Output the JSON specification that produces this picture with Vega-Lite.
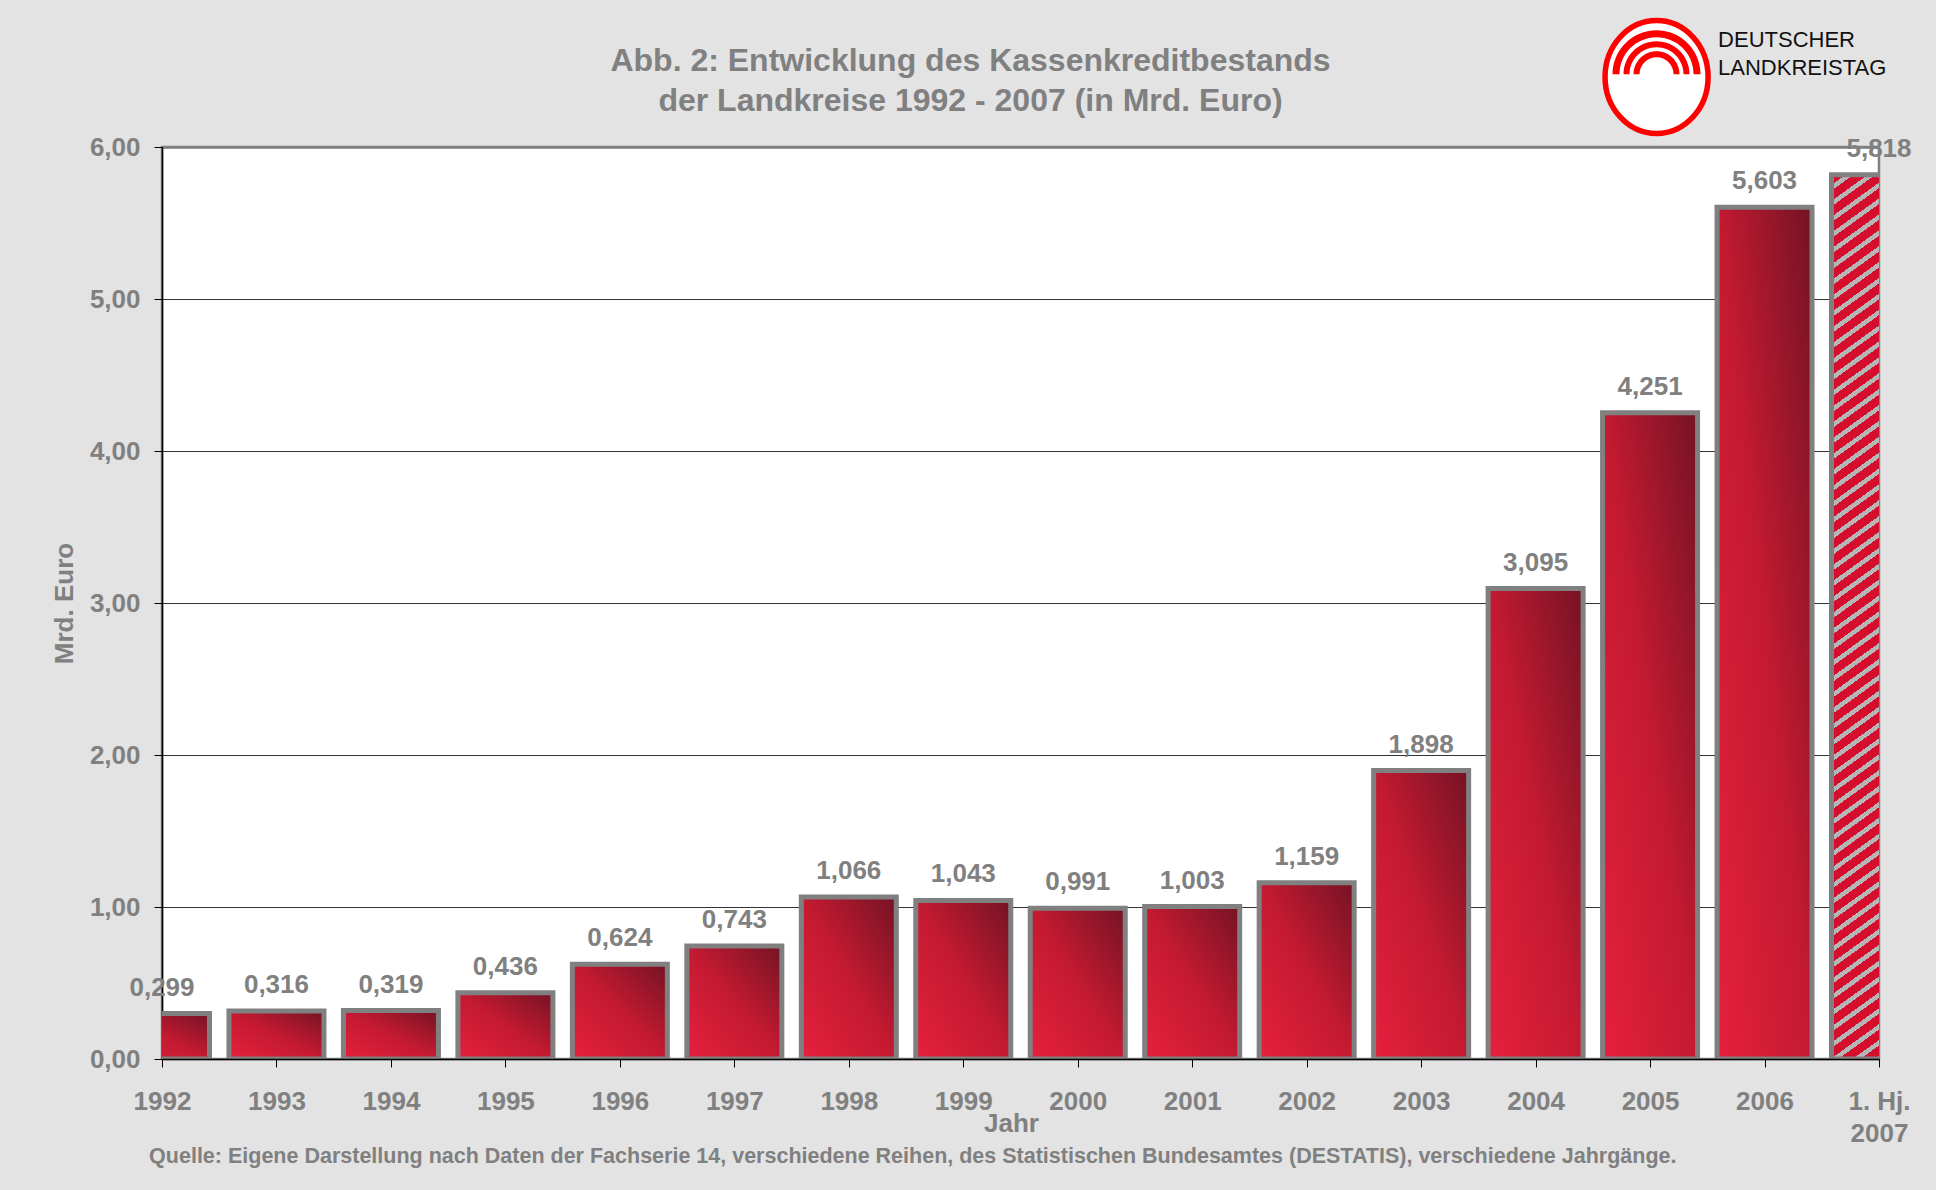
{
  "$schema": "https://vega.github.io/schema/vega-lite/v6.json",
  "width": 1717,
  "height": 912,
  "autosize": {"type": "none"},
  "padding": {"left": 162, "top": 147, "right": 57, "bottom": 131},
  "background": "#e3e3e3",
  "config": {
    "locale": {"number": {"decimal": ",", "thousands": ".", "grouping": [3], "currency": ["", " €"]}},
    "view": {"fill": "#ffffff", "stroke": "#808080", "strokeWidth": 2.5},
    "font": "Liberation Sans",
    "axis": {
      "labelFont": "Liberation Sans", "labelFontWeight": "bold", "labelFontSize": 26, "labelColor": "#808080",
      "titleFont": "Liberation Sans", "titleFontWeight": "bold", "titleFontSize": 26, "titleColor": "#808080",
      "domainColor": "#000000", "tickColor": "#000000", "tickSize": 8, "domainWidth": 1.5
    }
  },
  "data": {"values": [
    {"year": "1992", "value": 0.299},
    {"year": "1993", "value": 0.316},
    {"year": "1994", "value": 0.319},
    {"year": "1995", "value": 0.436},
    {"year": "1996", "value": 0.624},
    {"year": "1997", "value": 0.743},
    {"year": "1998", "value": 1.066},
    {"year": "1999", "value": 1.043},
    {"year": "2000", "value": 0.991},
    {"year": "2001", "value": 1.003},
    {"year": "2002", "value": 1.159},
    {"year": "2003", "value": 1.898},
    {"year": "2004", "value": 3.095},
    {"year": "2005", "value": 4.251},
    {"year": "2006", "value": 5.603},
    {"year": "1. Hj. 2007", "value": 5.818}
  ]},
  "resolve": {"axis": {"x": "independent", "y": "independent"}},
  "layer": [
    {
      "transform": [{"filter": "datum.year != '1. Hj. 2007'"}],
      "mark": {
        "type": "bar", "width": 95, "clip": true, "stroke": "#808080", "strokeWidth": 5,
        "fill": {"gradient": "linear", "x1": 0, "y1": 1, "x2": 1, "y2": 0, "stops": [
          {"offset": 0, "color": "#e6203e"},
          {"offset": 0.5, "color": "#c41a31"},
          {"offset": 1, "color": "#741324"}
        ]}
      },
      "encoding": {
        "x": {
          "field": "year", "type": "ordinal",
          "scale": {"type": "point", "padding": 0, "domain": ["1992", "1993", "1994", "1995", "1996", "1997", "1998", "1999", "2000", "2001", "2002", "2003", "2004", "2005", "2006", "1. Hj. 2007"]},
          "axis": {
            "orient": "bottom", "title": "Jahr", "labelAngle": 0, "labelPadding": 21, "labelLineHeight": 32,
            "labelExpr": "datum.value == '1. Hj. 2007' ? ['1. Hj.', '2007'] : datum.label",
            "labelOverlap": false, "labelBound": false, "labelFlush": false,
            "titleX": 849, "titleY": 72, "titleBaseline": "alphabetic", "titleAlign": "center",
            "zindex": 1
          }
        },
        "y": {
          "field": "value", "type": "quantitative",
          "scale": {"domain": [0, 6], "nice": false, "zero": true},
          "axis": {
            "orient": "left", "title": "Mrd. Euro", "values": [0, 1, 2, 3, 4, 5, 6], "format": ".2f",
            "labelPadding": 14, "titlePadding": 12, "grid": true,
            "gridColor": {"condition": {"test": "datum.value == 6", "value": "#808080"}, "value": "#333333"},
            "gridWidth": {"condition": {"test": "datum.value == 6", "value": 2.5}, "value": 1},
            "zindex": 0
          }
        }
      }
    },
    {
      "transform": [{"filter": "datum.year == '1. Hj. 2007'"}],
      "mark": {
        "type": "bar", "width": 95, "clip": true, "stroke": "#808080", "strokeWidth": 5,
        "fill": {"gradient": "linear", "x1": 0, "y1": 0, "x2": 0.0828, "y2": 1.0709, "stops": [
          {"offset": 0, "color": "#d40e2c"}, {"offset": 0.0108, "color": "#d40e2c"}, {"offset": 0.0108, "color": "#b6b6b6"}, {"offset": 0.0167, "color": "#b6b6b6"},
          {"offset": 0.0167, "color": "#d40e2c"}, {"offset": 0.0275, "color": "#d40e2c"}, {"offset": 0.0275, "color": "#b6b6b6"}, {"offset": 0.0333, "color": "#b6b6b6"},
          {"offset": 0.0333, "color": "#d40e2c"}, {"offset": 0.0442, "color": "#d40e2c"}, {"offset": 0.0442, "color": "#b6b6b6"}, {"offset": 0.05, "color": "#b6b6b6"},
          {"offset": 0.05, "color": "#d40e2c"}, {"offset": 0.0608, "color": "#d40e2c"}, {"offset": 0.0608, "color": "#b6b6b6"}, {"offset": 0.0667, "color": "#b6b6b6"},
          {"offset": 0.0667, "color": "#d40e2c"}, {"offset": 0.0775, "color": "#d40e2c"}, {"offset": 0.0775, "color": "#b6b6b6"}, {"offset": 0.0833, "color": "#b6b6b6"},
          {"offset": 0.0833, "color": "#d40e2c"}, {"offset": 0.0942, "color": "#d40e2c"}, {"offset": 0.0942, "color": "#b6b6b6"}, {"offset": 0.1, "color": "#b6b6b6"},
          {"offset": 0.1, "color": "#d40e2c"}, {"offset": 0.1108, "color": "#d40e2c"}, {"offset": 0.1108, "color": "#b6b6b6"}, {"offset": 0.1167, "color": "#b6b6b6"},
          {"offset": 0.1167, "color": "#d40e2c"}, {"offset": 0.1275, "color": "#d40e2c"}, {"offset": 0.1275, "color": "#b6b6b6"}, {"offset": 0.1333, "color": "#b6b6b6"},
          {"offset": 0.1333, "color": "#d40e2c"}, {"offset": 0.1442, "color": "#d40e2c"}, {"offset": 0.1442, "color": "#b6b6b6"}, {"offset": 0.15, "color": "#b6b6b6"},
          {"offset": 0.15, "color": "#d40e2c"}, {"offset": 0.1608, "color": "#d40e2c"}, {"offset": 0.1608, "color": "#b6b6b6"}, {"offset": 0.1667, "color": "#b6b6b6"},
          {"offset": 0.1667, "color": "#d40e2c"}, {"offset": 0.1775, "color": "#d40e2c"}, {"offset": 0.1775, "color": "#b6b6b6"}, {"offset": 0.1833, "color": "#b6b6b6"},
          {"offset": 0.1833, "color": "#d40e2c"}, {"offset": 0.1942, "color": "#d40e2c"}, {"offset": 0.1942, "color": "#b6b6b6"}, {"offset": 0.2, "color": "#b6b6b6"},
          {"offset": 0.2, "color": "#d40e2c"}, {"offset": 0.2108, "color": "#d40e2c"}, {"offset": 0.2108, "color": "#b6b6b6"}, {"offset": 0.2167, "color": "#b6b6b6"},
          {"offset": 0.2167, "color": "#d40e2c"}, {"offset": 0.2275, "color": "#d40e2c"}, {"offset": 0.2275, "color": "#b6b6b6"}, {"offset": 0.2333, "color": "#b6b6b6"},
          {"offset": 0.2333, "color": "#d40e2c"}, {"offset": 0.2442, "color": "#d40e2c"}, {"offset": 0.2442, "color": "#b6b6b6"}, {"offset": 0.25, "color": "#b6b6b6"},
          {"offset": 0.25, "color": "#d40e2c"}, {"offset": 0.2608, "color": "#d40e2c"}, {"offset": 0.2608, "color": "#b6b6b6"}, {"offset": 0.2667, "color": "#b6b6b6"},
          {"offset": 0.2667, "color": "#d40e2c"}, {"offset": 0.2775, "color": "#d40e2c"}, {"offset": 0.2775, "color": "#b6b6b6"}, {"offset": 0.2833, "color": "#b6b6b6"},
          {"offset": 0.2833, "color": "#d40e2c"}, {"offset": 0.2942, "color": "#d40e2c"}, {"offset": 0.2942, "color": "#b6b6b6"}, {"offset": 0.3, "color": "#b6b6b6"},
          {"offset": 0.3, "color": "#d40e2c"}, {"offset": 0.3108, "color": "#d40e2c"}, {"offset": 0.3108, "color": "#b6b6b6"}, {"offset": 0.3167, "color": "#b6b6b6"},
          {"offset": 0.3167, "color": "#d40e2c"}, {"offset": 0.3275, "color": "#d40e2c"}, {"offset": 0.3275, "color": "#b6b6b6"}, {"offset": 0.3333, "color": "#b6b6b6"},
          {"offset": 0.3333, "color": "#d40e2c"}, {"offset": 0.3442, "color": "#d40e2c"}, {"offset": 0.3442, "color": "#b6b6b6"}, {"offset": 0.35, "color": "#b6b6b6"},
          {"offset": 0.35, "color": "#d40e2c"}, {"offset": 0.3608, "color": "#d40e2c"}, {"offset": 0.3608, "color": "#b6b6b6"}, {"offset": 0.3667, "color": "#b6b6b6"},
          {"offset": 0.3667, "color": "#d40e2c"}, {"offset": 0.3775, "color": "#d40e2c"}, {"offset": 0.3775, "color": "#b6b6b6"}, {"offset": 0.3833, "color": "#b6b6b6"},
          {"offset": 0.3833, "color": "#d40e2c"}, {"offset": 0.3942, "color": "#d40e2c"}, {"offset": 0.3942, "color": "#b6b6b6"}, {"offset": 0.4, "color": "#b6b6b6"},
          {"offset": 0.4, "color": "#d40e2c"}, {"offset": 0.4108, "color": "#d40e2c"}, {"offset": 0.4108, "color": "#b6b6b6"}, {"offset": 0.4167, "color": "#b6b6b6"},
          {"offset": 0.4167, "color": "#d40e2c"}, {"offset": 0.4275, "color": "#d40e2c"}, {"offset": 0.4275, "color": "#b6b6b6"}, {"offset": 0.4333, "color": "#b6b6b6"},
          {"offset": 0.4333, "color": "#d40e2c"}, {"offset": 0.4442, "color": "#d40e2c"}, {"offset": 0.4442, "color": "#b6b6b6"}, {"offset": 0.45, "color": "#b6b6b6"},
          {"offset": 0.45, "color": "#d40e2c"}, {"offset": 0.4608, "color": "#d40e2c"}, {"offset": 0.4608, "color": "#b6b6b6"}, {"offset": 0.4667, "color": "#b6b6b6"},
          {"offset": 0.4667, "color": "#d40e2c"}, {"offset": 0.4775, "color": "#d40e2c"}, {"offset": 0.4775, "color": "#b6b6b6"}, {"offset": 0.4833, "color": "#b6b6b6"},
          {"offset": 0.4833, "color": "#d40e2c"}, {"offset": 0.4942, "color": "#d40e2c"}, {"offset": 0.4942, "color": "#b6b6b6"}, {"offset": 0.5, "color": "#b6b6b6"},
          {"offset": 0.5, "color": "#d40e2c"}, {"offset": 0.5108, "color": "#d40e2c"}, {"offset": 0.5108, "color": "#b6b6b6"}, {"offset": 0.5167, "color": "#b6b6b6"},
          {"offset": 0.5167, "color": "#d40e2c"}, {"offset": 0.5275, "color": "#d40e2c"}, {"offset": 0.5275, "color": "#b6b6b6"}, {"offset": 0.5333, "color": "#b6b6b6"},
          {"offset": 0.5333, "color": "#d40e2c"}, {"offset": 0.5442, "color": "#d40e2c"}, {"offset": 0.5442, "color": "#b6b6b6"}, {"offset": 0.55, "color": "#b6b6b6"},
          {"offset": 0.55, "color": "#d40e2c"}, {"offset": 0.5608, "color": "#d40e2c"}, {"offset": 0.5608, "color": "#b6b6b6"}, {"offset": 0.5667, "color": "#b6b6b6"},
          {"offset": 0.5667, "color": "#d40e2c"}, {"offset": 0.5775, "color": "#d40e2c"}, {"offset": 0.5775, "color": "#b6b6b6"}, {"offset": 0.5833, "color": "#b6b6b6"},
          {"offset": 0.5833, "color": "#d40e2c"}, {"offset": 0.5942, "color": "#d40e2c"}, {"offset": 0.5942, "color": "#b6b6b6"}, {"offset": 0.6, "color": "#b6b6b6"},
          {"offset": 0.6, "color": "#d40e2c"}, {"offset": 0.6108, "color": "#d40e2c"}, {"offset": 0.6108, "color": "#b6b6b6"}, {"offset": 0.6167, "color": "#b6b6b6"},
          {"offset": 0.6167, "color": "#d40e2c"}, {"offset": 0.6275, "color": "#d40e2c"}, {"offset": 0.6275, "color": "#b6b6b6"}, {"offset": 0.6333, "color": "#b6b6b6"},
          {"offset": 0.6333, "color": "#d40e2c"}, {"offset": 0.6442, "color": "#d40e2c"}, {"offset": 0.6442, "color": "#b6b6b6"}, {"offset": 0.65, "color": "#b6b6b6"},
          {"offset": 0.65, "color": "#d40e2c"}, {"offset": 0.6608, "color": "#d40e2c"}, {"offset": 0.6608, "color": "#b6b6b6"}, {"offset": 0.6667, "color": "#b6b6b6"},
          {"offset": 0.6667, "color": "#d40e2c"}, {"offset": 0.6775, "color": "#d40e2c"}, {"offset": 0.6775, "color": "#b6b6b6"}, {"offset": 0.6833, "color": "#b6b6b6"},
          {"offset": 0.6833, "color": "#d40e2c"}, {"offset": 0.6942, "color": "#d40e2c"}, {"offset": 0.6942, "color": "#b6b6b6"}, {"offset": 0.7, "color": "#b6b6b6"},
          {"offset": 0.7, "color": "#d40e2c"}, {"offset": 0.7108, "color": "#d40e2c"}, {"offset": 0.7108, "color": "#b6b6b6"}, {"offset": 0.7167, "color": "#b6b6b6"},
          {"offset": 0.7167, "color": "#d40e2c"}, {"offset": 0.7275, "color": "#d40e2c"}, {"offset": 0.7275, "color": "#b6b6b6"}, {"offset": 0.7333, "color": "#b6b6b6"},
          {"offset": 0.7333, "color": "#d40e2c"}, {"offset": 0.7442, "color": "#d40e2c"}, {"offset": 0.7442, "color": "#b6b6b6"}, {"offset": 0.75, "color": "#b6b6b6"},
          {"offset": 0.75, "color": "#d40e2c"}, {"offset": 0.7608, "color": "#d40e2c"}, {"offset": 0.7608, "color": "#b6b6b6"}, {"offset": 0.7667, "color": "#b6b6b6"},
          {"offset": 0.7667, "color": "#d40e2c"}, {"offset": 0.7775, "color": "#d40e2c"}, {"offset": 0.7775, "color": "#b6b6b6"}, {"offset": 0.7833, "color": "#b6b6b6"},
          {"offset": 0.7833, "color": "#d40e2c"}, {"offset": 0.7942, "color": "#d40e2c"}, {"offset": 0.7942, "color": "#b6b6b6"}, {"offset": 0.8, "color": "#b6b6b6"},
          {"offset": 0.8, "color": "#d40e2c"}, {"offset": 0.8108, "color": "#d40e2c"}, {"offset": 0.8108, "color": "#b6b6b6"}, {"offset": 0.8167, "color": "#b6b6b6"},
          {"offset": 0.8167, "color": "#d40e2c"}, {"offset": 0.8275, "color": "#d40e2c"}, {"offset": 0.8275, "color": "#b6b6b6"}, {"offset": 0.8333, "color": "#b6b6b6"},
          {"offset": 0.8333, "color": "#d40e2c"}, {"offset": 0.8442, "color": "#d40e2c"}, {"offset": 0.8442, "color": "#b6b6b6"}, {"offset": 0.85, "color": "#b6b6b6"},
          {"offset": 0.85, "color": "#d40e2c"}, {"offset": 0.8608, "color": "#d40e2c"}, {"offset": 0.8608, "color": "#b6b6b6"}, {"offset": 0.8667, "color": "#b6b6b6"},
          {"offset": 0.8667, "color": "#d40e2c"}, {"offset": 0.8775, "color": "#d40e2c"}, {"offset": 0.8775, "color": "#b6b6b6"}, {"offset": 0.8833, "color": "#b6b6b6"},
          {"offset": 0.8833, "color": "#d40e2c"}, {"offset": 0.8942, "color": "#d40e2c"}, {"offset": 0.8942, "color": "#b6b6b6"}, {"offset": 0.9, "color": "#b6b6b6"},
          {"offset": 0.9, "color": "#d40e2c"}, {"offset": 0.9108, "color": "#d40e2c"}, {"offset": 0.9108, "color": "#b6b6b6"}, {"offset": 0.9167, "color": "#b6b6b6"},
          {"offset": 0.9167, "color": "#d40e2c"}, {"offset": 0.9275, "color": "#d40e2c"}, {"offset": 0.9275, "color": "#b6b6b6"}, {"offset": 0.9333, "color": "#b6b6b6"},
          {"offset": 0.9333, "color": "#d40e2c"}, {"offset": 0.9442, "color": "#d40e2c"}, {"offset": 0.9442, "color": "#b6b6b6"}, {"offset": 0.95, "color": "#b6b6b6"},
          {"offset": 0.95, "color": "#d40e2c"}, {"offset": 0.9608, "color": "#d40e2c"}, {"offset": 0.9608, "color": "#b6b6b6"}, {"offset": 0.9667, "color": "#b6b6b6"},
          {"offset": 0.9667, "color": "#d40e2c"}, {"offset": 0.9775, "color": "#d40e2c"}, {"offset": 0.9775, "color": "#b6b6b6"}, {"offset": 0.9833, "color": "#b6b6b6"},
          {"offset": 0.9833, "color": "#d40e2c"}, {"offset": 0.9942, "color": "#d40e2c"}, {"offset": 0.9942, "color": "#b6b6b6"}, {"offset": 1, "color": "#b6b6b6"}
        ]}
      },
      "encoding": {
        "x": {"field": "year", "type": "ordinal", "axis": null},
        "y": {"field": "value", "type": "quantitative", "scale": {"domain": [0, 6], "nice": false}, "axis": null}
      }
    },
    {
      "mark": {"type": "text", "dy": -18, "baseline": "alphabetic", "align": "center", "fontSize": 26, "fontWeight": "bold", "color": "#808080", "font": "Liberation Sans"},
      "encoding": {
        "x": {
          "field": "year", "type": "ordinal",
          "axis": {
            "orient": "top", "title": ["Abb. 2: Entwicklung des Kassenkreditbestands", "der Landkreise 1992 - 2007 (in Mrd. Euro)"],
            "labels": false, "ticks": false, "domain": false, "grid": false,
            "titleFontSize": 32, "titleLineHeight": 40, "titleX": 808, "titleY": -76.5,
            "titleBaseline": "alphabetic", "titleAlign": "center", "titleAngle": 0
          }
        },
        "y": {"field": "value", "type": "quantitative", "scale": {"domain": [0, 6], "nice": false}, "axis": null},
        "text": {"field": "value", "type": "quantitative", "format": ".3f"}
      }
    },
    {
      "data": {"values": [{}]},
      "mark": {"type": "point", "shape": "M -0.912 0 A 0.912 1 0 1 1 0.912 0 A 0.912 1 0 1 1 -0.912 0 Z", "size": 12769, "filled": true, "fill": "#ffffff", "stroke": "#ff0000", "strokeWidth": 5.5, "opacity": 1, "fillOpacity": 1, "strokeOpacity": 1, "xOffset": 6.5},
      "encoding": {
        "x": {"datum": "2005", "type": "ordinal", "axis": null},
        "y": {"datum": 6.4605, "type": "quantitative", "axis": null}
      }
    },
    {
      "data": {"values": [{}]},
      "mark": {"type": "point", "shape": "M -0.779 -0.05 A 0.779 0.779 0 0 1 0.779 -0.05 L 0.655 -0.05 A 0.655 0.655 0 0 0 -0.655 -0.05 Z M -0.584 -0.05 A 0.584 0.584 0 0 1 0.584 -0.05 L 0.478 -0.05 A 0.478 0.478 0 0 0 -0.478 -0.05 Z M -0.407 -0.05 A 0.407 0.407 0 0 1 0.407 -0.05 L 0.301 -0.05 A 0.301 0.301 0 0 0 -0.301 -0.05 Z", "size": 12769, "filled": true, "fill": "#ff0000", "strokeWidth": 0, "opacity": 1, "fillOpacity": 1, "xOffset": 6.5},
      "encoding": {
        "x": {"datum": "2005", "type": "ordinal", "axis": null},
        "y": {"datum": 6.4605, "type": "quantitative", "axis": null}
      }
    },
    {
      "data": {"values": [{}]},
      "mark": {"type": "text", "align": "left", "baseline": "alphabetic", "dx": 68, "font": "Liberation Sans", "fontSize": 22, "lineHeight": 28, "color": "#111111", "text": ["DEUTSCHER", "LANDKREISTAG"]},
      "encoding": {
        "x": {"datum": "2005", "type": "ordinal", "axis": null},
        "y": {"datum": 6.658, "type": "quantitative", "axis": null}
      }
    },
    {
      "data": {"values": [{}]},
      "mark": {"type": "text", "align": "center", "baseline": "alphabetic", "dx": 64, "font": "Liberation Sans", "fontSize": 21.5, "fontWeight": "bold", "color": "#808080", "text": "Quelle: Eigene Darstellung nach Daten der Fachserie 14,  verschiedene Reihen, des Statistischen Bundesamtes (DESTATIS), verschiedene Jahrgänge."},
      "encoding": {
        "x": {"datum": "1998", "type": "ordinal", "axis": null},
        "y": {"datum": -0.684, "type": "quantitative", "axis": null}
      }
    }
  ]
}
